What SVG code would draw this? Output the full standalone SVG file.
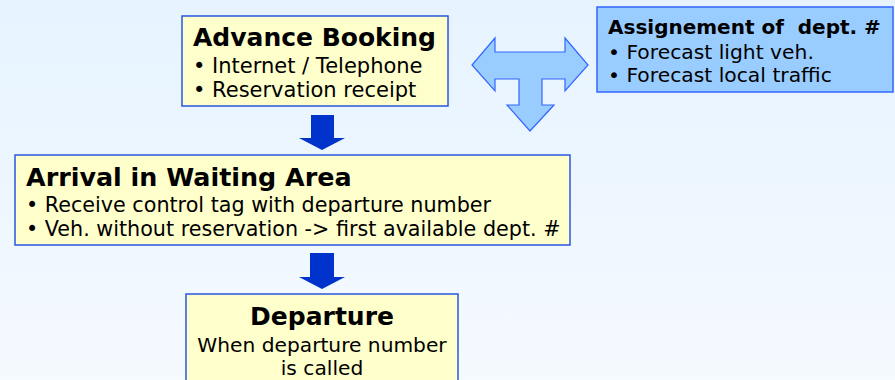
<svg xmlns="http://www.w3.org/2000/svg" width="895" height="380" viewBox="0 0 895 380">
<defs>
<linearGradient id="bg" x1="0" y1="0" x2="0" y2="1">
<stop offset="0" stop-color="#e6f3ff"/>
<stop offset="1" stop-color="#f5faff"/>
</linearGradient>
<style>
.box{fill:#ffffcc;stroke:#2a56e0;stroke-width:1.5}
.bbox{fill:#99ccff;stroke:#3366ff;stroke-width:1.5}
.t{font-family:"DejaVu Sans",Verdana,sans-serif;fill:#000}
.h{font-size:25px;font-weight:bold}
.h2{font-size:20px;font-weight:bold;white-space:pre}
.b{font-size:20px}
.dark{fill:#0033cc}
.light{fill:#99ccff;stroke:#3366ff;stroke-width:1.2;stroke-linejoin:miter}
</style>
</defs>
<rect width="895" height="380" fill="url(#bg)"/>
<g id="advance-booking">
<rect class="box" x="182" y="16" width="266" height="90"/>
<text class="t h" x="193" y="46">Advance Booking</text>
<text class="t b" x="193" y="73" style="font-size:21px">• Internet / Telephone</text>
<text class="t b" x="193" y="97" style="font-size:21px">• Reservation receipt</text>
</g>
<g id="assignment">
<rect class="bbox" x="597" y="7" width="296" height="85"/>
<text class="t h2" x="608" y="34" xml:space="preserve">Assignement of  dept. #</text>
<text class="t b" x="608" y="59" style="font-size:20.3px">• Forecast light veh.</text>
<text class="t b" x="608" y="82" style="font-size:20.3px">• Forecast local traffic</text>
</g>
<g id="arrival">
<rect class="box" x="15" y="155" width="555" height="90"/>
<text class="t h" x="26" y="186" style="font-size:25.4px">Arrival in Waiting Area</text>
<text class="t b" x="26" y="212" style="font-size:20.7px">• Receive control tag with departure number</text>
<text class="t b" x="26" y="236" style="font-size:20.7px">• Veh. without reservation -&gt; first available dept. #</text>
</g>
<g id="departure">
<rect class="box" x="186" y="294" width="272" height="100"/>
<text class="t h" x="322" y="325" text-anchor="middle">Departure</text>
<text class="t b" x="322" y="352" text-anchor="middle" style="font-size:20.2px">When departure number</text>
<text class="t b" x="322" y="375" text-anchor="middle" style="font-size:20.2px">is called</text>
</g>
<g id="connectors">
<polygon class="dark" points="311,115 334,115 334,138 345,138 322,150 299,138 311,138"/>
<polygon class="dark" points="310,253 334,253 334,277 345,277 322,289 299,277 310,277"/>
<polygon class="light" points="495,38 495,52 565,52 565,38 588,65 565,91 565,79 542,79 542,105 554,105 530,131 507,105 519,105 519,79 495,79 495,91 472,65"/>
</g>
</svg>
